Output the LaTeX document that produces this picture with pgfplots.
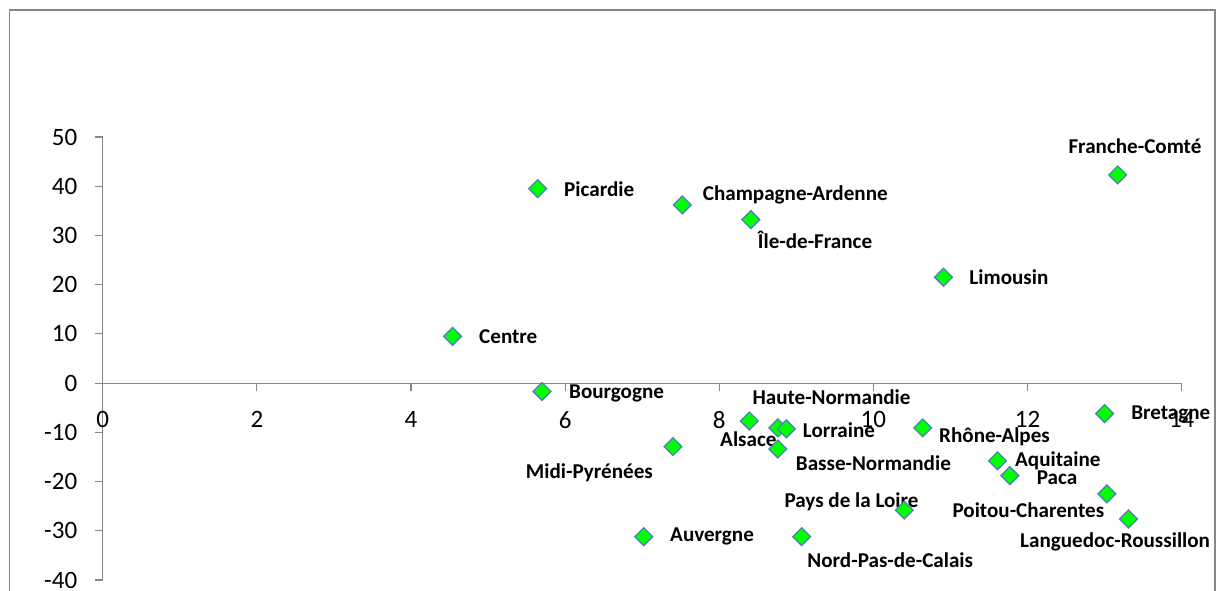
\documentclass[border=0pt]{standalone}
\usepackage{pgfplots}
\pgfplotsset{compat=1.18}
\usepackage{pgfplotstable}
\usepackage{fontspec}
\setmainfont{Carlito}
\definecolor{axgray}{HTML}{868686}
\definecolor{mkblue}{HTML}{4F81BD}
\definecolor{mkgreen}{HTML}{00FF00}
\pgfplotstableread{
x y
5.644 39.5
7.52 36.2
8.41 33.2
13.17 42.3
10.91 21.5
4.54 9.5
5.70 -1.7
8.39 -7.7
8.76 -9.1
8.87 -9.3
8.76 -13.4
7.40 -12.9
10.64 -9.1
13.00 -6.2
11.61 -15.8
11.77 -18.8
13.03 -22.5
13.31 -27.6
10.40 -25.8
7.02 -31.2
9.07 -31.2
}\data
\tikzset{lbl/.style={anchor=west, inner sep=0pt, text=black, font=\bfseries\fontsize{21.1bp}{25bp}\selectfont}}
\begin{document}
\begin{tikzpicture}
\useasboundingbox (0bp,0bp) rectangle (1221bp,591bp);
\fill[white] (0bp,0bp) rectangle (1221bp,591bp);
\draw[axgray, line width=1.3bp] (9.5bp,-5bp) -- (9.5bp,581bp) -- (1215bp,581bp) -- (1215bp,-5bp);
\begin{axis}[
  at={(102.7bp,11bp)}, anchor=south west,
  scale only axis, width=1079bp, height=443bp,
  xmin=0, xmax=14, ymin=-40, ymax=50,
  axis x line=middle, axis y line=left,
  axis line style={axgray, line width=1.2bp, -},
  xtick={0,2,...,14}, ytick={-40,-30,...,50},
  hide obscured x ticks=false, hide obscured y ticks=false,
  tick align=outside, major tick length=8bp,
  tick style={axgray, line width=1.2bp},
  ticklabel style={font=\fontsize{25bp}{30bp}\selectfont, text=black},
  xticklabel style={yshift=-17bp},
  yticklabel style={xshift=-14bp},
  /pgf/number format/assume math mode=true,
  clip=false,
]
\addplot[only marks, mark=square*, mark size=6.3bp,
  mark options={rotate=45, fill=mkgreen, draw=mkblue, line width=1.3bp}]
  table[x=x, y=y] {\data};
\node[lbl] at (axis cs:5.986,39.5) {Picardie};
\node[lbl] at (axis cs:7.785,38.3) {Champagne-Ardenne};
\node[lbl] at (axis cs:8.499,29.0) {Île-de-France};
\node[lbl, anchor=center] at (axis cs:13.394,48.1) {Franche-Comté};
\node[lbl] at (axis cs:11.244,21.6) {Limousin};
\node[lbl] at (axis cs:4.883,9.35) {Centre};
\node[lbl] at (axis cs:6.050,-2.03) {Bourgogne};
\node[lbl] at (axis cs:8.429,-2.85) {Haute-Normandie};
\node[lbl] at (axis cs:8.010,-11.3) {Alsace};
\node[lbl] at (axis cs:9.083,-9.5) {Lorraine};
\node[lbl] at (axis cs:10.851,-11.0) {Rhône-Alpes};
\node[lbl] at (axis cs:8.992,-16.3) {Basse-Normandie};
\node[lbl] at (axis cs:5.489,-18.2) {Midi-Pyrénées};
\node[lbl] at (axis cs:8.844,-24.2) {Pays de la Loire};
\node[lbl] at (axis cs:7.361,-31.2) {Auvergne};
\node[lbl] at (axis cs:9.142,-35.9) {Nord-Pas-de-Calais};
\node[lbl] at (axis cs:13.343,-6.44) {Bretagne};
\node[lbl] at (axis cs:11.837,-15.8) {Aquitaine};
\node[lbl] at (axis cs:12.119,-19.2) {Paca};
\node[lbl] at (axis cs:11.024,-25.75) {Poitou-Charentes};
\node[lbl] at (axis cs:11.902,-32.3) {Languedoc-Roussillon};
\end{axis}
\end{tikzpicture}
\end{document}
